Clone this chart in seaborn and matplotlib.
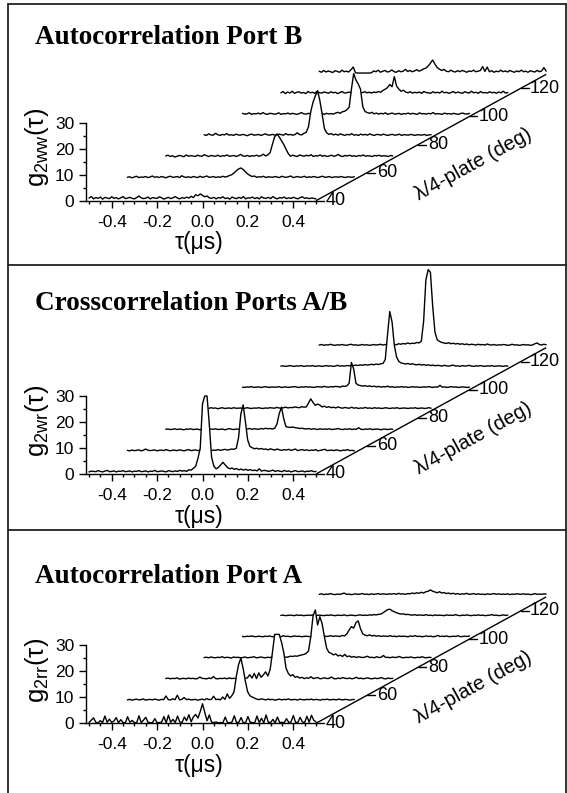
import numpy as np
import pandas as pd
import matplotlib
matplotlib.use("Agg")
import matplotlib.pyplot as plt
from matplotlib.lines import Line2D
import seaborn as sns

# ---------------------------------------------------------------- data
# correlation histograms, 0.01 us bins from -0.50 us to +0.50 us
tau_first, tau_last, tau_bin = -0.50, 0.50, 0.01
angles = [40, 55, 70, 85, 100, 115, 130]          # lambda/4-plate angle (deg)
angle_ticks = [40, 60, 80, 100, 120]
tau_ticks = [-0.4, -0.2, 0.0, 0.2, 0.4]
g_ticks = [0, 10, 20, 30]
g_minor_ticks = [5, 15, 25]

# --- autocorrelation port B (g2ww)
b40 = [1.0, 1.6, 0.7, 1.2, 0.9, 1.4, 0.6, 1.3, 1.0, 0.8,
       1.5, 0.9, 1.2, 0.7, 1.1, 1.6, 0.8, 1.0, 1.3, 0.9,
       0.7, 1.2, 1.8, 1.1, 0.8, 1.0, 1.4, 0.7, 1.2, 1.0,
       0.9, 1.5, 1.1, 0.6, 1.0, 1.3, 0.8, 1.1, 1.6, 1.0,
       0.7, 1.2, 0.9, 1.4, 1.0, 1.7, 1.2, 2.3, 1.9, 2.6,
       2.1, 1.5, 1.8, 1.1, 0.9, 1.3, 0.7, 1.2, 1.0, 1.5,
       0.8, 1.1, 0.6, 1.4, 1.0, 0.8, 1.3, 0.9, 1.6, 0.7,
       1.1, 1.0, 1.4, 0.8, 1.2, 0.7, 1.5, 1.0, 0.9, 1.3,
       0.8, 1.6, 1.0, 0.7, 1.2, 1.0, 1.4, 0.8, 1.1, 0.9,
       1.3, 1.0, 0.7, 1.2, 1.5, 0.9, 1.1, 0.8, 1.0, 0.9, 0.7]
b55 = [0.9, 1.1, 0.7, 1.0, 1.3, 0.8, 1.0, 0.9, 1.2, 0.8,
       1.0, 1.4, 0.9, 1.1, 0.8, 1.2, 1.0, 0.7, 1.1, 1.3,
       0.9, 1.0, 1.2, 0.8, 1.5, 1.0, 0.9, 1.1, 0.8, 1.2,
       1.0, 0.8, 1.3, 0.9, 1.1, 1.4, 0.9, 1.0, 1.2, 0.8,
       1.1, 0.9, 1.3, 1.0, 1.2, 1.6, 1.9, 2.6, 3.4, 4.1,
       4.5, 3.9, 3.0, 2.2, 1.6, 1.2, 1.4, 0.9, 1.1, 1.0,
       1.3, 0.8, 1.1, 1.0, 0.9, 1.2, 1.0, 0.8, 1.3, 1.0,
       0.9, 1.1, 1.4, 0.8, 1.0, 1.2, 0.9, 1.0, 1.3, 0.8,
       1.1, 0.9, 1.2, 1.0, 0.8, 1.1, 1.3, 0.9, 1.0, 1.2,
       0.8, 1.0, 1.1, 0.9, 1.2, 1.0, 0.8, 1.1, 1.0, 0.9, 1.1]
b70 = [1.0, 1.3, 0.8, 1.1, 0.6, 0.9, 1.2, 1.0, 0.7, 1.4,
       0.9, 1.1, 1.0, 0.8, 1.3, 1.0, 0.9, 1.5, 1.1, 0.8,
       1.2, 1.0, 0.9, 1.3, 0.8, 1.1, 1.0, 1.4, 0.9, 1.0,
       1.2, 0.8, 1.1, 1.6, 1.0, 0.9, 1.2, 0.8, 1.1, 1.0,
       1.3, 0.9, 1.1, 1.7, 1.0, 1.4, 2.3, 5.5, 8.4, 9.5,
       8.3, 6.9, 5.4, 3.6, 1.9, 0.9, 1.3, 1.0, 0.8, 1.4,
       1.1, 0.9, 1.3, 1.0, 1.5, 0.8, 1.1, 1.0, 1.4, 0.9,
       1.2, 0.8, 1.0, 1.3, 0.9, 1.1, 1.6, 1.0, 0.8, 1.2,
       1.0, 1.3, 0.9, 1.1, 0.8, 1.2, 1.0, 1.4, 0.9, 1.1,
       1.0, 0.8, 1.2, 1.0, 1.3, 0.9, 1.1, 1.0, 0.8, 1.2, 1.0]
b85 = [1.1, 0.8, 1.4, 1.0, 0.9, 1.6, 1.1, 0.8, 1.2, 1.0,
       1.5, 0.9, 1.1, 0.8, 1.3, 1.0, 0.9, 1.2, 1.0, 0.7,
       1.1, 1.3, 0.9, 1.0, 1.2, 0.8, 1.1, 1.4, 1.0, 0.9,
       1.2, 1.0, 0.8, 1.3, 1.1, 0.9, 1.5, 1.0, 1.2, 0.9,
       1.1, 1.8, 1.2, 1.0, 1.6, 2.0, 4.2, 10.0, 13.6, 16.0,
       18.0, 14.2, 9.0, 3.5, 1.8, 1.2, 1.5, 1.0, 1.3, 0.9,
       1.4, 1.1, 0.8, 1.2, 1.0, 1.5, 0.9, 1.1, 0.8, 1.3,
       1.0, 1.2, 0.9, 1.4, 1.0, 0.8, 1.2, 1.1, 0.9, 1.3,
       1.0, 0.8, 1.1, 1.2, 0.9, 1.0, 1.3, 0.8, 1.1, 1.0,
       0.9, 1.2, 1.0, 0.8, 1.1, 1.0, 0.9, 1.2, 0.8, 1.0, 1.1]
b100 = [1.2, 0.9, 1.0, 1.4, 0.8, 1.1, 1.0, 1.3, 0.9, 1.5,
        1.0, 0.8, 1.2, 1.1, 0.9, 1.0, 1.4, 0.8, 1.1, 1.0,
        1.3, 0.9, 1.2, 1.0, 0.8, 1.1, 1.5, 1.0, 0.9, 1.2,
        1.0, 1.4, 0.9, 1.1, 1.0, 1.3, 0.8, 1.2, 1.0, 1.1,
        0.9, 1.3, 1.6, 1.2, 1.8, 2.0, 2.6, 3.5, 10.5, 16.5,
        14.0, 12.5, 10.5, 3.8, 1.9, 1.5, 1.2, 1.6, 1.0, 1.3,
        0.9, 1.2, 1.0, 1.4, 0.8, 1.1, 1.3, 0.9, 1.0, 1.2,
        0.8, 1.1, 1.0, 1.3, 0.9, 1.2, 1.0, 0.8, 1.4, 1.0,
        1.1, 0.9, 1.2, 1.0, 1.5, 0.9, 1.1, 1.0, 0.8, 1.3,
        1.0, 1.1, 0.9, 1.2, 1.0, 0.8, 1.1, 1.3, 1.0, 0.9, 1.2]
b115 = [1.0, 1.5, 0.7, 1.3, 0.9, 1.6, 0.8, 1.2, 1.4, 0.9,
        1.1, 0.7, 1.5, 1.0, 1.2, 0.8, 1.6, 1.0, 0.9, 1.3,
        1.1, 0.8, 1.4, 1.0, 1.2, 0.7, 1.1, 1.5, 0.9, 1.0,
        1.3, 1.0, 0.8, 1.2, 1.6, 0.9, 1.1, 1.4, 1.0, 1.2,
        0.9, 1.3, 1.1, 1.5, 1.2, 1.9, 2.4, 3.0, 4.2, 3.3,
        7.2, 3.6, 2.4, 1.6, 2.0, 1.3, 1.0, 1.4, 0.9, 1.2,
        1.0, 1.3, 0.8, 1.5, 1.1, 1.0, 0.8, 1.4, 1.0, 1.2,
        0.9, 1.6, 1.0, 1.2, 0.8, 1.1, 1.5, 0.9, 1.3, 1.0,
        0.8, 1.4, 1.1, 0.9, 1.6, 1.0, 1.2, 0.8, 1.5, 1.0,
        1.1, 0.9, 1.4, 1.0, 1.2, 0.8, 1.3, 1.0, 1.6, 0.9, 1.1]
b130 = [1.2, 0.8, 1.5, 0.9, 1.3, 1.0, 0.7, 1.4, 1.1, 0.8,
        1.6, 1.0, 1.2, 0.9, 1.8, 2.8, 0.6, 0.5, 0.5, 0.5,
        0.5, 0.5, 0.5, 0.6, 1.3, 1.0, 1.6, 0.8, 1.2, 1.5,
        0.9, 1.1, 1.7, 1.0, 0.8, 1.4, 1.0, 1.2, 1.9, 1.1,
        1.5, 1.0, 1.3, 1.8, 1.2, 1.6, 2.1, 2.4, 3.2, 4.3,
        5.5, 3.9, 2.6, 2.0, 1.5, 1.9, 1.2, 1.0, 1.6, 1.1,
        0.9, 1.4, 1.0, 1.5, 1.2, 0.8, 1.3, 1.1, 1.6, 1.0,
        1.2, 1.5, 3.0, 1.1, 2.8, 1.0, 1.4, 0.8, 1.2, 1.0,
        1.6, 1.0, 1.3, 0.9, 1.5, 1.1, 0.8, 1.3, 1.0, 1.6,
        1.0, 1.2, 0.8, 1.4, 1.1, 0.9, 1.5, 1.0, 1.3, 2.6, 1.2]

# --- crosscorrelation ports A/B (g2wr); the tallest bins saturate the 30 scale
x40 = [0.8, 1.1, 1.0, 0.9, 1.3, 1.0, 0.8, 1.1, 1.4, 0.9,
       1.0, 1.2, 0.8, 1.1, 1.0, 1.3, 0.9, 1.0, 1.2, 0.8,
       1.1, 1.0, 1.3, 0.9, 1.0, 1.2, 0.8, 1.1, 1.0, 1.4,
       0.9, 1.0, 1.2, 1.0, 0.8, 1.3, 1.1, 0.9, 1.2, 1.0,
       1.4, 1.1, 1.3, 1.0, 1.6, 1.5, 2.2, 3.0, 6.0, 10.0,
       27.0, 30.0, 30.0, 19.0, 6.5, 3.0, 2.0, 2.5, 3.5, 4.5,
       3.5, 2.5, 2.0, 2.3, 1.8, 2.1, 1.6, 1.9, 1.5, 1.8,
       1.4, 1.7, 1.3, 1.5, 1.2, 2.0, 1.1, 1.4, 1.3, 1.0,
       1.2, 1.5, 1.0, 1.3, 1.1, 0.9, 1.4, 1.0, 1.2, 0.8,
       1.1, 1.3, 0.9, 1.0, 1.2, 0.8, 1.1, 1.0, 1.3, 0.9, 1.0]
x55 = [1.0, 0.8, 1.1, 0.9, 1.0, 1.2, 0.8, 1.0, 1.5, 1.1,
       0.9, 1.0, 1.2, 0.8, 1.0, 1.1, 0.9, 1.3, 1.0, 0.8,
       1.1, 1.0, 0.9, 1.2, 1.0, 0.8, 1.1, 1.3, 0.9, 1.0,
       1.2, 0.9, 1.0, 1.1, 0.8, 1.0, 1.2, 0.9, 1.1, 1.0,
       1.3, 1.0, 1.2, 1.4, 1.1, 1.3, 1.5, 1.4, 1.8, 6.0,
       15.0, 18.5, 12.0, 5.0, 2.5, 2.0, 1.6, 1.8, 1.5, 1.7,
       1.4, 1.5, 1.2, 1.6, 1.3, 1.1, 1.5, 1.2, 1.0, 1.3,
       1.1, 1.4, 1.0, 1.2, 1.5, 0.9, 1.1, 1.3, 1.0, 1.2,
       0.9, 1.1, 1.0, 1.3, 0.8, 1.0, 1.2, 1.4, 0.9, 1.0,
       1.1, 0.9, 1.2, 1.0, 0.8, 1.1, 1.0, 1.3, 0.9, 1.0, 0.8]
x70 = [1.0, 1.1, 0.9, 1.0, 1.2, 0.9, 1.1, 1.0, 0.8, 1.1,
       1.0, 1.2, 0.9, 1.0, 1.1, 0.8, 1.0, 1.2, 1.0, 0.9,
       1.1, 1.0, 1.2, 0.9, 1.0, 1.1, 0.8, 1.0, 1.3, 1.0,
       0.9, 1.1, 1.0, 1.2, 0.9, 1.0, 1.1, 1.3, 1.0, 1.2,
       1.1, 1.0, 1.3, 1.1, 1.4, 1.2, 1.3, 1.1, 1.4, 3.0,
       7.0, 9.5, 5.0, 2.0, 1.8, 1.7, 1.9, 1.6, 1.5, 1.3,
       1.4, 1.2, 1.1, 1.3, 1.0, 1.2, 1.1, 0.9, 1.2, 1.0,
       1.1, 1.0, 1.2, 0.9, 1.0, 1.1, 1.3, 1.0, 0.9, 1.1,
       1.0, 1.2, 0.9, 1.1, 1.0, 1.6, 1.0, 0.9, 1.1, 1.0,
       1.2, 0.9, 1.0, 1.1, 1.0, 0.8, 1.1, 1.0, 0.9, 1.1, 1.0]
x85 = [1.1, 1.0, 0.9, 1.2, 1.0, 1.1, 0.8, 1.0, 1.2, 0.9,
       1.0, 1.1, 0.9, 1.2, 1.0, 1.0, 1.1, 0.9, 1.0, 1.2,
       1.0, 0.9, 1.1, 1.0, 1.2, 1.0, 0.9, 1.1, 1.0, 1.2,
       1.1, 1.0, 1.3, 1.1, 1.0, 1.2, 1.4, 1.1, 1.3, 1.2,
       1.5, 1.3, 1.2, 1.6, 1.4, 1.5, 3.0, 4.6, 3.2, 2.1,
       2.6, 2.2, 1.5, 1.8, 1.3, 1.6, 1.2, 1.4, 1.1, 1.5,
       1.2, 1.0, 1.3, 1.1, 1.0, 1.4, 1.0, 1.2, 0.9, 1.1,
       1.0, 1.3, 1.0, 1.1, 0.9, 1.2, 1.0, 1.1, 0.9, 1.0,
       1.2, 1.0, 0.9, 1.1, 1.0, 1.2, 0.9, 1.0, 1.1, 1.0,
       0.9, 1.1, 1.0, 1.2, 0.9, 1.0, 1.1, 0.9, 1.0, 1.2, 1.0]
x100 = [1.0, 0.9, 1.1, 1.0, 1.2, 0.9, 1.0, 1.1, 0.9, 1.0,
        1.2, 1.0, 0.9, 1.1, 1.0, 1.0, 1.2, 0.9, 1.0, 1.1,
        0.9, 1.0, 1.1, 1.2, 1.0, 0.9, 1.1, 1.0, 1.2, 1.0,
        1.1, 0.9, 1.0, 1.2, 1.1, 1.0, 1.3, 1.1, 1.0, 1.2,
        1.1, 1.3, 1.2, 1.0, 1.4, 1.3, 1.5, 2.5, 10.5, 8.0,
        2.5, 1.8, 1.6, 1.4, 1.6, 1.3, 1.5, 1.2, 1.4, 1.1,
        1.3, 1.0, 1.2, 1.1, 1.4, 1.0, 1.2, 0.9, 1.1, 1.0,
        1.2, 1.0, 1.1, 0.9, 1.0, 1.2, 1.0, 1.1, 0.9, 1.0,
        1.1, 1.0, 1.2, 1.0, 0.9, 1.1, 1.0, 1.7, 1.0, 1.1,
        0.9, 1.0, 1.2, 1.0, 1.1, 0.9, 1.0, 1.1, 1.0, 0.9, 1.0]
x115 = [1.0, 1.1, 0.9, 1.0, 1.2, 1.0, 0.9, 1.1, 1.0, 1.2,
        0.9, 1.0, 1.1, 1.0, 1.2, 0.9, 1.0, 1.1, 0.9, 1.0,
        1.2, 1.0, 1.1, 0.9, 1.0, 1.3, 1.0, 1.1, 1.0, 1.2,
        1.1, 1.3, 1.2, 1.4, 1.2, 1.5, 1.3, 1.6, 1.4, 1.5,
        1.7, 1.5, 1.8, 1.6, 1.9, 2.0, 3.5, 13.0, 22.0, 18.0,
        9.0, 4.5, 2.8, 2.2, 2.0, 1.8, 2.0, 1.7, 1.9, 1.6,
        1.5, 1.7, 1.4, 1.6, 1.3, 1.5, 1.2, 1.4, 1.1, 1.3,
        1.2, 1.0, 1.3, 1.1, 1.0, 1.2, 1.4, 1.0, 1.1, 0.9,
        1.2, 1.0, 1.1, 1.3, 1.0, 0.9, 1.1, 1.0, 1.2, 1.0,
        0.9, 1.1, 1.0, 1.2, 0.9, 1.0, 1.1, 1.0, 0.9, 1.1, 1.0]
x130 = [1.0, 1.2, 0.9, 1.1, 1.0, 1.3, 1.0, 0.9, 1.1, 1.0,
        1.2, 1.0, 0.9, 1.1, 1.3, 1.0, 1.1, 0.9, 1.0, 1.2,
        1.0, 1.1, 0.9, 1.0, 1.2, 1.0, 1.1, 1.3, 1.0, 1.2,
        1.1, 1.4, 1.2, 1.3, 1.1, 1.5, 1.3, 1.6, 1.4, 1.8,
        1.5, 1.7, 1.6, 2.0, 1.8, 2.5, 10.0, 26.0, 30.0, 29.0,
        16.0, 6.0, 3.0, 2.4, 2.0, 1.8, 1.6, 1.9, 1.5, 1.7,
        1.4, 1.6, 1.3, 1.5, 1.2, 1.4, 1.1, 1.3, 1.2, 1.0,
        1.3, 1.1, 1.2, 1.0, 1.4, 1.1, 1.0, 1.2, 0.9, 1.1,
        1.0, 1.2, 1.1, 0.9, 1.0, 1.3, 1.0, 1.1, 0.9, 1.0,
        1.2, 1.0, 1.1, 0.9, 1.0, 1.5, 1.8, 1.2, 1.0, 1.3, 1.1]

# --- autocorrelation port A (g2rr)
a40 = [0.3, 1.2, 2.1, 0.4, 0.2, 1.0, 0.3, 2.8, 0.4, 1.6,
       0.3, 0.9, 2.2, 0.2, 1.4, 0.3, 0.2, 2.5, 0.4, 1.1,
       0.3, 0.2, 2.9, 0.3, 1.2, 2.3, 0.4, 0.2, 0.3, 1.8,
       0.2, 0.3, 0.4, 2.6, 0.2, 3.1, 0.4, 1.5, 0.3, 2.8,
       0.5, 0.3, 2.4, 1.0, 3.3, 0.6, 2.5, 3.4, 2.0, 4.5,
       7.5, 4.2, 1.0, 3.2, 0.4, 0.3, 0.5, 0.2, 0.3, 0.2,
       2.4, 0.3, 0.2, 0.5, 2.9, 0.3, 0.4, 2.2, 0.2, 0.3,
       2.6, 0.4, 0.3, 0.2, 2.8, 0.3, 1.9, 0.2, 3.2, 0.4,
       0.3, 1.5, 0.2, 2.4, 0.3, 0.4, 0.2, 1.8, 0.3, 0.5,
       3.0, 0.4, 0.3, 2.3, 0.5, 0.3, 2.7, 0.4, 3.1, 1.2, 0.5]
a55 = [0.9, 1.1, 0.8, 1.0, 1.2, 0.9, 1.0, 1.3, 0.8, 1.0,
       1.1, 0.9, 1.2, 1.0, 0.8, 1.1, 1.0, 2.4, 1.0, 0.9,
       1.3, 1.0, 2.7, 0.9, 1.1, 1.8, 1.0, 1.2, 0.9, 1.0,
       1.1, 0.8, 1.0, 1.2, 0.9, 1.4, 1.0, 1.1, 2.3, 1.0,
       1.2, 0.9, 2.0, 1.1, 3.2, 1.5, 2.5, 4.0, 10.0, 14.5,
       17.0, 13.0, 8.0, 4.0, 2.5, 2.0, 1.6, 1.2, 1.0, 1.3,
       1.1, 0.9, 1.2, 1.0, 1.1, 0.8, 1.0, 1.2, 0.9, 1.1,
       1.0, 1.3, 0.9, 1.0, 1.1, 0.8, 1.2, 1.0, 0.9, 1.1,
       1.0, 1.2, 0.9, 1.1, 1.0, 0.8, 1.1, 1.0, 1.2, 0.9,
       1.0, 1.1, 0.9, 1.2, 1.0, 0.9, 1.1, 1.0, 0.8, 1.0, 1.1]
a70 = [1.0, 1.2, 0.9, 1.1, 1.0, 1.3, 0.8, 1.0, 1.1, 0.9,
       1.2, 1.0, 1.1, 0.9, 1.0, 1.6, 1.1, 1.0, 0.9, 1.2,
       1.0, 1.8, 1.0, 0.9, 1.1, 1.0, 1.2, 0.9, 1.3, 1.0,
       1.1, 1.0, 0.9, 1.2, 1.0, 1.1, 1.3, 2.5, 1.2, 3.0,
       1.0, 3.2, 1.5, 2.4, 3.6, 2.0, 4.5, 11.0, 18.0, 18.0,
       18.0, 15.0, 11.0, 5.0, 3.0, 2.0, 2.5, 1.5, 1.8, 1.2,
       1.5, 1.0, 1.3, 1.1, 1.7, 1.0, 1.2, 1.4, 0.9, 1.1,
       1.3, 1.0, 1.1, 1.6, 1.0, 0.9, 1.2, 1.0, 1.4, 1.1,
       1.0, 1.2, 0.9, 1.1, 1.5, 1.0, 1.2, 0.9, 1.1, 1.3,
       1.0, 0.9, 1.2, 1.0, 1.1, 1.4, 1.0, 0.9, 1.2, 1.0, 1.1]
a85 = [1.0, 1.1, 0.9, 1.2, 1.0, 0.9, 1.1, 1.0, 1.3, 0.9,
       1.1, 1.0, 0.8, 1.2, 1.0, 1.1, 0.9, 1.0, 1.2, 0.9,
       1.0, 1.1, 1.3, 0.9, 1.0, 1.2, 1.0, 0.9, 1.1, 1.0,
       1.2, 0.9, 1.0, 1.1, 1.0, 1.3, 1.1, 1.2, 1.5, 1.4,
       1.6, 1.5, 1.8, 2.0, 2.2, 2.6, 3.5, 9.0, 17.0, 19.3,
       13.5, 16.7, 14.0, 9.0, 4.5, 3.0, 2.6, 2.0, 2.4, 1.6,
       1.9, 1.4, 2.2, 1.3, 1.6, 1.1, 1.4, 1.0, 1.3, 1.1,
       1.0, 1.2, 1.5, 1.0, 1.1, 0.9, 1.3, 1.0, 1.1, 1.8,
       1.0, 1.1, 0.9, 1.2, 1.0, 1.1, 1.4, 1.0, 0.9, 1.1,
       1.0, 1.2, 1.0, 0.9, 1.1, 1.0, 1.3, 1.0, 0.9, 1.1, 1.0]
a100 = [1.0, 0.9, 1.1, 1.0, 1.2, 1.0, 0.9, 1.1, 1.0, 0.9,
        1.1, 1.0, 1.2, 0.9, 1.0, 1.1, 1.0, 0.9, 1.3, 1.0,
        1.1, 0.9, 1.0, 1.2, 1.0, 1.1, 0.9, 1.0, 1.1, 1.0,
        0.9, 1.2, 1.0, 1.1, 1.0, 0.9, 1.2, 1.0, 1.1, 1.3,
        1.0, 1.2, 1.1, 1.0, 1.4, 1.2, 2.0, 3.5, 4.8, 4.2,
        6.3, 7.0, 4.0, 2.0, 1.5, 1.3, 1.6, 1.2, 1.4, 1.1,
        1.3, 1.0, 1.2, 1.1, 1.0, 1.3, 1.0, 1.1, 0.9, 1.2,
        1.0, 1.1, 1.0, 0.9, 1.2, 1.0, 1.3, 1.0, 1.1, 0.9,
        1.0, 1.2, 1.0, 1.1, 0.9, 1.0, 1.4, 1.0, 1.1, 1.0,
        1.2, 0.9, 1.0, 1.1, 1.0, 1.3, 0.9, 1.0, 1.1, 1.0, 1.2]
a115 = [1.0, 1.1, 0.9, 1.0, 1.1, 1.0, 0.9, 1.2, 1.0, 1.1,
        0.9, 1.0, 1.1, 1.0, 1.2, 0.9, 1.0, 1.1, 1.0, 0.9,
        1.1, 1.0, 1.2, 1.0, 0.9, 1.1, 1.0, 1.0, 1.2, 0.9,
        1.0, 1.1, 1.0, 0.9, 1.1, 1.2, 1.0, 1.1, 1.0, 1.2,
        1.1, 1.3, 1.2, 1.4, 1.5, 2.0, 2.6, 3.2, 3.4, 2.8,
        2.4, 2.0, 1.7, 1.5, 1.6, 1.3, 1.4, 1.2, 1.1, 1.3,
        1.0, 1.2, 1.1, 1.0, 1.3, 1.0, 1.1, 0.9, 1.2, 1.0,
        1.1, 1.0, 0.9, 1.2, 1.0, 1.1, 1.0, 1.3, 1.0, 0.9,
        1.1, 1.0, 1.2, 1.0, 0.9, 1.1, 1.0, 1.2, 1.0, 1.1,
        0.9, 1.0, 1.1, 1.3, 1.0, 1.1, 0.9, 1.0, 1.2, 1.0, 1.1]
a130 = [1.0, 1.2, 0.9, 1.1, 1.0, 1.3, 1.0, 0.9, 1.1, 1.0,
        1.2, 1.5, 1.0, 1.1, 0.9, 1.0, 1.2, 1.0, 1.1, 1.3,
        1.0, 1.1, 0.9, 1.2, 1.0, 1.1, 1.3, 1.0, 1.2, 1.1,
        1.0, 1.2, 1.1, 1.3, 1.0, 1.4, 1.1, 1.2, 1.0, 1.3,
        1.2, 1.5, 1.3, 1.6, 1.4, 1.8, 1.5, 2.0, 2.2, 2.7,
        2.2, 1.9, 1.6, 2.0, 1.5, 1.7, 1.3, 1.5, 1.2, 1.4,
        1.1, 1.3, 1.0, 1.2, 1.1, 1.4, 1.0, 1.1, 1.3, 1.0,
        1.2, 1.0, 1.1, 0.9, 1.2, 1.0, 1.1, 1.3, 1.0, 1.2,
        1.0, 1.1, 1.0, 1.2, 0.9, 1.1, 1.0, 1.2, 1.1, 1.0,
        1.2, 1.0, 1.1, 0.9, 1.0, 1.3, 1.0, 1.1, 1.0, 1.2, 1.1]

port_b = [b40, b55, b70, b85, b100, b115, b130]
cross_ab = [x40, x55, x70, x85, x100, x115, x130]
port_a = [a40, a55, a70, a85, a100, a115, a130]

# ---------------------------------------------------------------- layout
FIG_W, FIG_H, DPI = 567, 793, 100
PX_PER_US = 227.0          # horizontal scale of the tau axis
PX_PER_G = 2.6             # vertical scale of the g2 axis
DX_PER_DEG = 0.169 / 15    # waterfall shift along tau per plate degree
DY_PER_DEG = 8.1 / 15      # waterfall shift along g2 per plate degree
TAU_AXIS_LEFT = -0.515

panels = [
    dict(title="Autocorrelation Port B", sub="2ww", traces=port_b,
         band=(0, 265), origin=(202.5, 200.7), title_base=44),
    dict(title="Crosscorrelation Ports A/B", sub="2wr", traces=cross_ab,
         band=(265, 530), origin=(202.5, 474.0), title_base=310),
    dict(title="Autocorrelation Port A", sub="2rr", traces=port_a,
         band=(530, 793), origin=(202.5, 723.3), title_base=583),
]

sns.set_theme(style="white")
plt.rcParams["font.family"] = ["Liberation Sans", "DejaVu Sans"]
plt.rcParams["mathtext.fontset"] = "custom"
plt.rcParams["mathtext.rm"] = "Liberation Sans"
plt.rcParams["mathtext.it"] = "Liberation Sans"
plt.rcParams["mathtext.default"] = "regular"

fig = plt.figure(figsize=(FIG_W / DPI, FIG_H / DPI), dpi=DPI)
fig.patch.set_facecolor("white")

tau = np.round(np.linspace(tau_first, tau_last, len(b40)), 3)
ink = "black"
tick_fs = 12.5
label_fs = 15.5
line_w = 1.0

for p in panels:
    top, bot = p["band"]
    x0, y0 = p["origin"]
    ax = fig.add_axes([0, 1 - bot / FIG_H, 1, (bot - top) / FIG_H])
    ax.set_xlim((0 - x0) / PX_PER_US, (FIG_W - x0) / PX_PER_US)
    ax.set_ylim((y0 - bot) / PX_PER_G, (y0 - top) / PX_PER_G)
    ax.patch.set_alpha(0)

    # waterfall: back traces first, each masked underneath by a white fill
    n = len(angles)
    for i in reversed(range(n)):
        shift = angles[i] - angles[0]
        xs = tau + shift * DX_PER_DEG
        base = shift * DY_PER_DEG
        ys = np.asarray(p["traces"][i]) + base
        z = 3 + (n - i) * 0.5
        ax.fill_between(xs, base, ys, color="white", lw=0, zorder=z)
        df = pd.DataFrame({"x": xs, "y": ys})
        sns.lineplot(data=df, x="x", y="y", ax=ax, color=ink, lw=line_w,
                     estimator=None, sort=False, zorder=z + 0.1, legend=False)

    # left / bottom axes of the front trace
    for side in ("top", "right"):
        ax.spines[side].set_visible(False)
    ax.spines["left"].set_position(("data", TAU_AXIS_LEFT))
    ax.spines["left"].set_bounds(g_ticks[0], g_ticks[-1])
    ax.spines["bottom"].set_position(("data", 0))
    ax.spines["bottom"].set_bounds(TAU_AXIS_LEFT, tau_last)
    for s in ("left", "bottom"):
        ax.spines[s].set_color(ink)
        ax.spines[s].set_linewidth(line_w)
        ax.spines[s].set_zorder(20)
    ax.set_xticks(tau_ticks)
    ax.set_xticklabels([f"{t:.1f}" for t in tau_ticks])
    ax.set_xticks(np.round(np.arange(tau_first, tau_last + 0.001, 0.05), 2), minor=True)
    ax.set_yticks(g_ticks)
    ax.set_yticks(g_minor_ticks, minor=True)
    ax.tick_params(axis="both", which="major", direction="out", length=5,
                   width=line_w, color=ink, labelsize=tick_fs, labelcolor=ink)
    ax.tick_params(axis="both", which="minor", direction="out", length=2.5,
                   width=line_w, color=ink)
    ax.tick_params(axis="x", which="major", pad=5)
    ax.tick_params(axis="y", which="major", pad=3)
    ax.tick_params(bottom=True, left=True, which="both")
    ax.set_xlabel("")
    ax.set_ylabel("")
    ax.grid(False)

    ax.text(-0.015, -16.2, "τ(μs)", ha="center", va="center",
            fontsize=label_fs + 1, color=ink)
    ax.text(-0.73, 20.5, "g$_{%s}$(τ)" % p["sub"], ha="center", va="center",
            rotation=90, fontsize=label_fs + 3, color=ink)

    # receding plate-angle axis
    span = angles[-1] - angles[0]
    ax.plot([tau_last, tau_last + span * DX_PER_DEG], [0, span * DY_PER_DEG],
            color=ink, lw=line_w, zorder=20, solid_capstyle="butt")
    tick_len = 8 / PX_PER_US
    for a in angle_ticks:
        s = a - angles[0]
        px, py = tau_last + s * DX_PER_DEG, s * DY_PER_DEG
        ax.plot([px, px + tick_len], [py, py], color=ink, lw=line_w, zorder=20)
        ax.text(px + tick_len + 1.5 / PX_PER_US, py, str(a), ha="left",
                va="center", fontsize=tick_fs + 0.5, color=ink)
    ang = np.degrees(np.arctan2(DY_PER_DEG * PX_PER_G, DX_PER_DEG * PX_PER_US))
    ax.text(1.195, 13.8, "λ/4-plate (deg)", rotation=ang, rotation_mode="anchor",
            ha="center", va="center", fontsize=label_fs - 1, color=ink)

    fig.text(35 / FIG_W, 1 - p["title_base"] / FIG_H, p["title"],
             family="Liberation Serif", weight="bold", fontsize=19.5,
             ha="left", va="baseline", color=ink)

# panel frames
frame = dict(color="#222222", lw=1.3, transform=fig.transFigure)
fx0, fx1 = 8 / FIG_W, 566 / FIG_W
fig.add_artist(Line2D([fx0, fx0], [0, 1 - 4 / FIG_H], **frame))
fig.add_artist(Line2D([fx1, fx1], [0, 1 - 4 / FIG_H], **frame))
for yb in (4, 265, 530):
    fig.add_artist(Line2D([fx0, fx1], [1 - yb / FIG_H] * 2, **frame))

fig.savefig("out.png", dpi=DPI, facecolor="white")
